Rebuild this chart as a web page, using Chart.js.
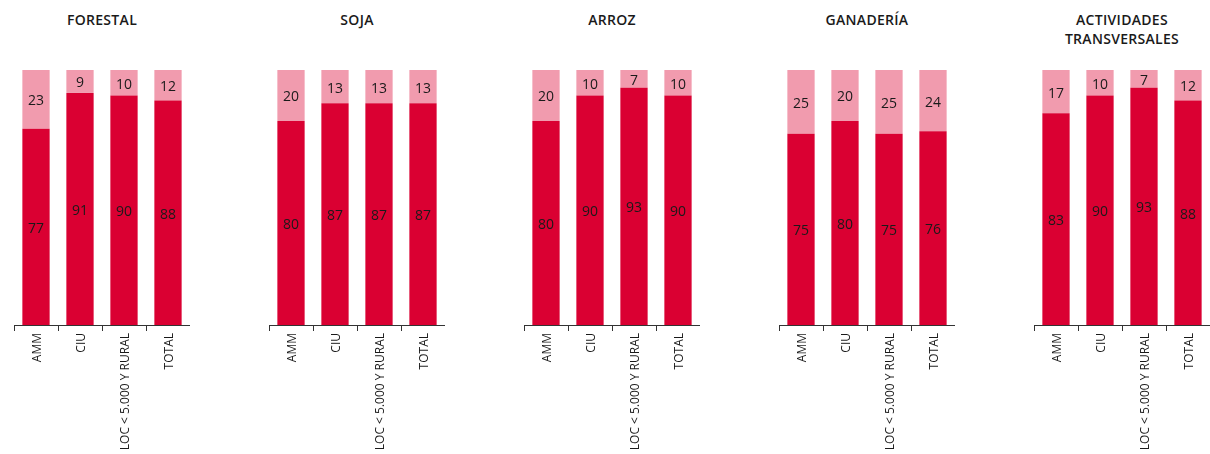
<!DOCTYPE html>
<html>
<head>
<meta charset="utf-8">
<script src="https://cdn.jsdelivr.net/npm/chart.js@4.4.1/dist/chart.umd.min.js"></script>
<style>
  html, body { margin: 0; padding: 0; background: #fff; }
  #wrap { position: relative; width: 1210px; height: 454px; overflow: hidden; }
  .panel { position: absolute; top: 0; width: 176px; height: 454px; }
  .panel canvas { position: absolute; left: 0; top: 0; }
  .title { position: absolute; left: -30px; width: 236px; top: 10px; text-align: center;
           font-family: 'Open Sans', sans-serif; font-weight: 600; font-size: 14px;
           line-height: 19px; color: #1a1a1a; letter-spacing: 0.3px; }
</style>
</head>
<body>
<div id="wrap"></div>
<script>
// categories and panel titles
const categories = ['AMM', 'CIU', 'LOC < 5.000 Y RURAL', 'TOTAL'];
const panelTitles = ['FORESTAL', 'SOJA', 'ARROZ', 'GANADERÍA', 'ACTIVIDADES<br>TRANSVERSALES'];

// bottom (dark) and top (light) segments, per panel
const forestalLow = [77, 91, 90, 88];
const forestalHigh = [23, 9, 10, 12];
const sojaLow = [80, 87, 87, 87];
const sojaHigh = [20, 13, 13, 13];
const arrozLow = [80, 90, 93, 90];
const arrozHigh = [20, 10, 7, 10];
const ganaderiaLow = [75, 80, 75, 76];
const ganaderiaHigh = [25, 20, 25, 24];
const transversalesLow = [83, 90, 93, 88];
const transversalesHigh = [17, 10, 7, 12];

const lowSeries = [forestalLow, sojaLow, arrozLow, ganaderiaLow, transversalesLow];
const highSeries = [forestalHigh, sojaHigh, arrozHigh, ganaderiaHigh, transversalesHigh];

const colors = { dark: '#DA0032', light: '#F19BAE', text: '#1a1a1a', axis: '#333333' };

// value labels in the middle of each segment
const segmentLabels = {
  id: 'segmentLabels',
  afterDatasetsDraw(chart) {
    const ctx = chart.ctx;
    ctx.save();
    ctx.font = "500 14px 'Open Sans', sans-serif";
    ctx.fillStyle = colors.text;
    ctx.textAlign = 'center';
    ctx.textBaseline = 'middle';
    chart.data.datasets.forEach((ds, di) => {
      chart.getDatasetMeta(di).data.forEach((bar, i) => {
        const mid = (bar.y + bar.base) / 2;
        ctx.fillText(ds.data[i], bar.x, mid + 2);
      });
    });
    ctx.restore();
  }
};

const wrap = document.getElementById('wrap');

panelTitles.forEach((title, p) => {
  const panel = document.createElement('div');
  panel.className = 'panel';
  panel.style.left = (14 + p * 255) + 'px';
  panel.innerHTML = '<div class="title">' + title + '</div><canvas width="176" height="454"></canvas>';
  wrap.appendChild(panel);

  new Chart(panel.querySelector('canvas'), {
    type: 'bar',
    data: {
      labels: categories,
      datasets: [
        { data: lowSeries[p], backgroundColor: colors.dark, barPercentage: 0.62, categoryPercentage: 1 },
        { data: highSeries[p], backgroundColor: colors.light, barPercentage: 0.62, categoryPercentage: 1 }
      ]
    },
    options: {
      responsive: false,
      animation: false,
      layout: { padding: { top: 70, left: 0, right: 0, bottom: 0 } },
      plugins: { legend: { display: false }, tooltip: { enabled: false } },
      scales: {
        x: {
          stacked: true,
          afterFit: s => { s.height = 129; },
          grid: { display: true, drawOnChartArea: false, drawTicks: true, tickLength: 6, color: colors.axis, lineWidth: 1, offset: true },
          border: { display: true, color: colors.axis, width: 1 },
          ticks: { minRotation: 90, maxRotation: 90, autoSkip: false, padding: 2, labelOffset: 2, color: colors.text,
                   font: { family: "'Open Sans', sans-serif", size: 12 } }
        },
        y: { stacked: true, display: false, min: 0, max: 100 }
      }
    },
    plugins: [segmentLabels]
  });
});
</script>
</body>
</html>
